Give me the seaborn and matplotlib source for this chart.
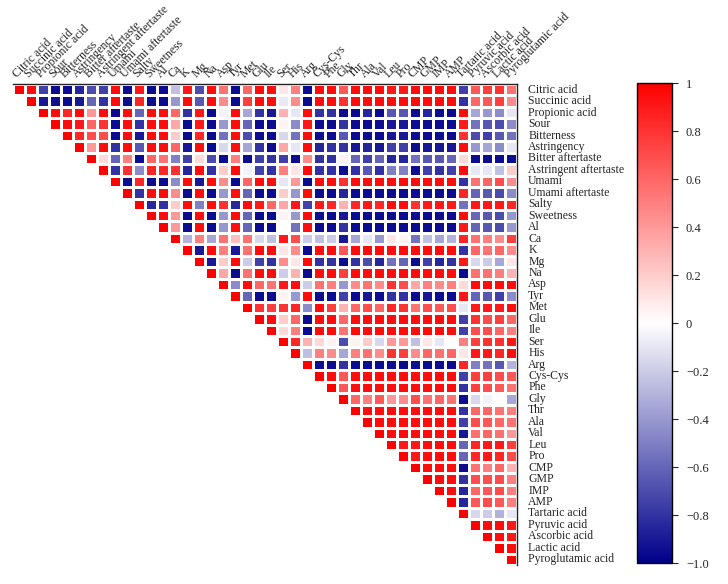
import matplotlib
matplotlib.use('Agg')
import numpy as np
import pandas as pd
import matplotlib.pyplot as plt
from matplotlib.colors import LinearSegmentedColormap
import seaborn as sns

# ======================
# 1. DATA (upper triangle, read row by row, diagonal first)
# ======================
labels = ['Citric acid', 'Succinic acid', 'Propionic acid', 'Sour', 'Bitterness',
          'Astringency', 'Bitter aftertaste', 'Astringent aftertaste', 'Umami',
          'Umami aftertaste', 'Salty', 'Sweetness', 'Al', 'Ca', 'K', 'Mg', 'Na',
          'Asp', 'Tyr', 'Met', 'Glu', 'Ile', 'Ser', 'His', 'Arg', 'Cys-Cys', 'Phe',
          'Gly', 'Thr', 'Ala', 'Val', 'Leu', 'Pro', 'CMP', 'GMP', 'IMP', 'AMP',
          'Tartaric acid', 'Pyruvic acid', 'Ascorbic acid', 'Lactic acid',
          'Pyroglutamic acid']

upper_rows = [
    [1, 0.95, -0.75, -0.95, -0.95, -0.85, -0.7, -0.75, 0.95, -0.95, 0.9, -0.95, -0.95, -0.25,
     0.9, -0.7, 0.95, 0.55, -0.95, 0.6, 0.95, 0.95, 0.1, 0.5, -0.95, 0.95, 0.95, 0.65,
     0.95, 0.95, 0.95, 0.9, 0.9, 0.95, 0.95, 0.95, 0.95, -0.75, 0.65, 0.75, 0.8, 0.55],
    [1, -0.9, -0.95, -0.95, -0.9, -0.6, -0.8, 0.95, -0.95, 0.85, -0.95, -0.95, -0.4,
     0.95, -0.65, 0.95, 0.45, -0.95, 0.75, 0.95, 0.95, -0.08, 0.45, -0.95, 0.95, 0.95, 0.8,
     0.95, 0.95, 0.95, 0.95, 0.95, 0.95, 0.95, 0.95, 0.95, -0.8, 0.6, 0.65, 0.75, 0.45],
    [1, 0.95, 0.85, 0.95, 0.4, 0.95, -0.95, 0.95, -0.6, 0.95, 0.95, 0.6,
     -0.8, 0.9, -0.95, -0.05, 0.95, -0.35, -0.8, -0.9, 0.3, -0.1, 0.95, -0.8, -0.8, -0.95,
     -0.95, -0.85, -0.95, -0.65, -0.65, -0.95, -0.85, -0.95, -0.95, 0.95, -0.35, -0.4, -0.45, -0.1],
    [1, 0.95, 0.9, 0.6, 0.8, -0.95, 0.95, -0.8, 0.95, 0.95, 0.35,
     -0.95, 0.9, -0.95, -0.4, 0.95, -0.6, -0.95, -0.95, 0.05, -0.45, 0.9, -0.95, -0.95, -0.8,
     -0.95, -0.95, -0.95, -0.9, -0.9, -0.95, -0.95, -0.95, -0.95, 0.9, -0.55, -0.65, -0.7, -0.45],
    [1, 0.85, 0.7, 0.7, -0.95, 0.95, -0.9, 0.95, 0.95, 0.2,
     -0.95, 0.85, -0.95, -0.55, 0.95, -0.7, -0.95, -0.95, -0.15, -0.55, 0.95, -0.95, -0.95, -0.65,
     -0.95, -0.95, -0.95, -0.9, -0.9, -0.95, -0.95, -0.95, -0.95, 0.8, -0.7, -0.75, -0.65, -0.55],
    [1, 0.4, 0.95, -0.8, 0.95, -0.65, 0.95, 0.95, 0.6,
     -0.9, 0.95, -0.95, -0.15, 0.95, -0.35, -0.8, -0.95, 0.35, -0.1, 0.95, -0.85, -0.8, -0.8,
     -0.9, -0.85, -0.9, -0.75, -0.75, -0.95, -0.9, -0.9, -0.9, 0.95, -0.4, -0.35, -0.45, -0.1],
    [1, 0.15, -0.6, 0.5, -0.95, 0.6, 0.55, -0.5,
     -0.75, 0.15, -0.7, -0.95, 0.5, -0.95, -0.75, -0.8, -0.75, -0.95, 0.45, -0.8, -0.8, 0.05,
     -0.6, -0.75, -0.6, -0.85, -0.85, -0.55, -0.65, -0.65, -0.6, 0.15, -0.95, -0.95, -0.95, -0.95],
    [1, -0.8, 0.8, -0.45, 0.85, 0.85, 0.8,
     -0.85, 0.95, -0.8, 0.2, 0.95, -0.05, -0.75, -0.8, 0.5, 0.1, 0.95, -0.8, -0.8, -0.95,
     -0.8, -0.65, -0.8, -0.5, -0.5, -0.95, -0.75, -0.8, -0.75, 0.95, -0.1, -0.1, -0.25, 0.2],
    [1, -0.95, 0.85, -0.95, -0.95, -0.45,
     0.95, -0.9, 0.95, 0.45, -0.95, 0.6, 0.95, 0.95, -0.1, 0.4, -0.95, 0.95, 0.95, 0.8,
     0.95, 0.95, 0.95, 0.95, 0.95, 0.95, 0.95, 0.95, 0.95, -0.8, 0.55, 0.6, 0.7, 0.45],
    [1, -0.8, 0.95, 0.95, 0.45,
     -0.95, 0.95, -0.95, -0.4, 0.95, -0.6, -0.95, -0.95, 0.2, -0.4, 0.95, -0.95, -0.95, -0.85,
     -0.95, -0.95, -0.95, -0.95, -0.95, -0.95, -0.95, -0.95, -0.95, 0.85, -0.6, -0.65, -0.7, -0.45],
    [1, -0.85, -0.8, 0.2,
     0.95, -0.5, 0.95, 0.8, -0.85, 0.95, 0.9, 0.6, 0.35, 0.9, -0.75, 0.9, 0.85, 0.3,
     0.85, 0.9, 0.85, 0.95, 0.95, 0.8, 0.9, 0.9, 0.9, -0.55, 0.9, 0.9, 0.9, 0.85],
    [1, 0.95, 0.4,
     -0.95, 0.95, -0.95, -0.4, 0.95, -0.6, -0.95, -0.95, 0.05, -0.4, 0.95, -0.95, -0.95, -0.9,
     -0.95, -0.95, -0.95, -0.95, -0.95, -0.95, -0.95, -0.95, -0.95, 0.95, -0.6, -0.65, -0.7, -0.4],
    [1, 0.4,
     -0.95, 0.95, -0.95, -0.4, 0.95, -0.6, -0.95, -0.95, 0.0, -0.55, 0.95, -0.95, -0.95, -0.8,
     -0.95, -0.95, -0.95, -0.95, -0.95, -0.95, -0.95, -0.95, -0.95, 0.9, -0.6, -0.65, -0.7, -0.4],
    [1,
     -0.3, 0.5, -0.35, 0.55, 0.25, 0.55, -0.15, -0.25, 0.9, 0.7, -0.2, -0.25, -0.2, -0.9,
     -0.35, -0.1, -0.4, 0.1, 0.05, -0.55, -0.25, -0.35, -0.3, 0.85, 0.55, 0.5, 0.45, 0.75],
    [1, -0.9, 0.95, 0.5, -0.9, 0.55, 0.95, 0.95, 0.1, 0.45, -0.95, 0.95, 0.95, 0.65,
     0.95, 0.95, 0.95, 0.95, 0.95, 0.95, 0.95, 0.95, 0.95, -0.8, 0.6, 0.55, 0.6, 0.45],
    [1, -0.9, 0.2, 0.95, -0.2, -0.75, -0.8, 0.45, 0.1, 0.95, -0.8, -0.8, -0.95,
     -0.8, -0.7, -0.85, -0.55, -0.6, -0.95, -0.75, -0.85, -0.8, 0.9, -0.15, -0.2, -0.35, 0.1],
    [1, 0.35, -0.95, 0.55, 0.95, 0.95, -0.2, 0.3, -0.95, 0.95, 0.95, 0.75,
     0.95, 0.95, 0.95, 0.95, 0.95, 0.95, 0.95, 0.95, 0.95, -0.95, 0.55, 0.55, 0.5, 0.3],
    [1, -0.45, 0.95, 0.6, 0.55, 0.9, 0.95, -0.2, 0.55, 0.5, -0.4,
     0.45, 0.55, 0.45, 0.8, 0.7, 0.35, 0.5, 0.45, 0.5, 0.15, 0.95, 0.95, 0.95, 0.95],
    [1, -0.6, -0.95, -0.95, 0.05, -0.4, 0.95, -0.95, -0.95, -0.75,
     -0.95, -0.9, -0.95, -0.8, -0.8, -0.95, -0.9, -0.95, -0.95, 0.9, -0.6, -0.65, -0.75, -0.45],
    [1, 0.8, 0.75, 0.8, 0.85, -0.45, 0.95, 0.75, 0.3,
     0.6, 0.7, 0.6, 0.85, 0.8, 0.55, 0.7, 0.65, 0.7, -0.1, 0.9, 0.9, 0.9, 0.95],
    [1, 0.95, 0.2, 0.6, -0.95, 0.95, 0.95, 0.6,
     0.95, 0.95, 0.95, 0.95, 0.95, 0.95, 0.95, 0.95, 0.95, -0.75, 0.8, 0.7, 0.75, 0.6],
    [1, 0.15, 0.5, -0.95, 0.95, 0.95, 0.55,
     0.95, 0.95, 0.95, 0.95, 0.95, 0.95, 0.95, 0.95, 0.95, -0.75, 0.7, 0.7, 0.6, 0.5],
    [1, 0.85, 0.3, 0.15, 0.05, -0.7,
     0.05, 0.2, -0.15, 0.4, 0.4, -0.25, 0.1, -0.1, 0.0, 0.5, 0.75, 0.8, 0.8, 0.9],
    [1, -0.25, 0.5, 0.45, -0.35,
     0.5, 0.55, 0.45, 0.8, 0.75, 0.45, 0.6, 0.55, 0.6, 0.1, 0.9, 0.9, 0.85, 0.95],
    [1, -0.95, -0.95, -0.8,
     -0.95, -0.95, -0.95, -0.95, -0.95, -0.95, -0.95, -0.95, -0.95, 0.85, -0.5, -0.55, -0.65, -0.3],
    [1, 0.95, 0.65,
     0.95, 0.95, 0.95, 0.95, 0.95, 0.95, 0.95, 0.95, 0.95, -0.75, 0.75, 0.75, 0.7, 0.65],
    [1, 0.65,
     0.95, 0.95, 0.95, 0.95, 0.95, 0.95, 0.95, 0.95, 0.95, -0.8, 0.75, 0.7, 0.65, 0.55],
    [1,
     0.6, 0.5, 0.65, 0.4, 0.45, 0.7, 0.55, 0.6, 0.55, -0.95, -0.15, -0.05, 0.0, -0.35],
    [1, 0.95, 0.95, 0.95, 0.95, 0.95, 0.95, 0.95, 0.95, -0.8, 0.6, 0.6, 0.55, 0.5],
    [1, 0.95, 0.95, 0.95, 0.95, 0.95, 0.95, 0.95, -0.75, 0.7, 0.65, 0.6, 0.55],
    [1, 0.95, 0.95, 0.95, 0.95, 0.95, 0.95, -0.9, 0.55, 0.6, 0.55, 0.4],
    [1, 0.9, 0.9, 0.95, 0.95, 0.95, -0.6, 0.85, 0.9, 0.9, 0.75],
    [1, 0.9, 0.95, 0.95, 0.95, -0.6, 0.85, 0.9, 0.85, 0.7],
    [1, 0.95, 0.95, 0.95, -0.95, 0.55, 0.5, 0.6, 0.3],
    [1, 0.95, 0.95, -0.8, 0.7, 0.7, 0.7, 0.5],
    [1, 0.95, -0.85, 0.6, 0.65, 0.7, 0.5],
    [1, -0.85, 0.65, 0.7, 0.65, 0.5],
    [1, -0.15, -0.2, -0.3, -0.1],
    [1, 0.95, 0.95, 0.9],
    [1, 0.95, 0.9],
    [1, 0.95],
    [1],
]

cbar_ticks = [1, 0.8, 0.6, 0.4, 0.2, 0, -0.2, -0.4, -0.6, -0.8, -1.0]
cbar_ticklabels = ['1', '0.8', '0.6', '0.4', '0.2', '0', '\u22120.2', '\u22120.4',
                   '\u22120.6', '\u22120.8', '\u22121.0']

# ======================
# 2. BUILD MATRIX
# ======================
n = len(labels)
mat = np.full((n, n), np.nan)
for i, row in enumerate(upper_rows):
    mat[i, i:] = row
    mat[i:, i] = row
corr = pd.DataFrame(mat, index=labels, columns=labels)
mask = np.tril(np.ones((n, n), dtype=bool), k=-1)

# ======================
# 3. PLOT
# ======================
sns.set_style('white')
plt.rcParams['font.family'] = ['Liberation Serif', 'DejaVu Serif']

cmap = LinearSegmentedColormap.from_list('bwr_dark', ['#00008B', '#FFFFFF', '#FF0000'])

fig = plt.figure(figsize=(7.28, 5.84), dpi=100)
ax = fig.add_axes([13 / 728, 19 / 584, 504 / 728, 481 / 584])
cax = fig.add_axes([637 / 728, 21 / 584, 35 / 728, 480 / 584])

sns.heatmap(corr, mask=mask, cmap=cmap, vmin=-1, vmax=1, linewidths=0.8,
            linecolor='white', ax=ax, cbar_ax=cax,
            xticklabels=labels, yticklabels=labels)

ax.xaxis.tick_top()
ax.set_xticklabels(labels, rotation=45, ha='left', va='bottom',
                   rotation_mode='anchor', fontsize=8.5)
ax.yaxis.tick_right()
ax.set_yticklabels(labels, rotation=0, ha='left', va='center', fontsize=8.5)
ax.tick_params(axis='x', length=0, pad=3)
ax.tick_params(axis='y', length=0, pad=8)
ax.set_xlabel('')
ax.set_ylabel('')
for side in ['top', 'right']:
    ax.spines[side].set_visible(True)
    ax.spines[side].set_color('#222222')
    ax.spines[side].set_linewidth(1.0)

cbar = ax.collections[0].colorbar
cbar.set_ticks(cbar_ticks)
cbar.set_ticklabels(cbar_ticklabels)
cbar.ax.tick_params(labelsize=9, length=4, width=0.8, direction='out', pad=6)
cbar.outline.set_visible(True)
cbar.outline.set_edgecolor('black')
cbar.outline.set_linewidth(1.0)

fig.savefig('out.png', dpi=100)
plt.close(fig)
